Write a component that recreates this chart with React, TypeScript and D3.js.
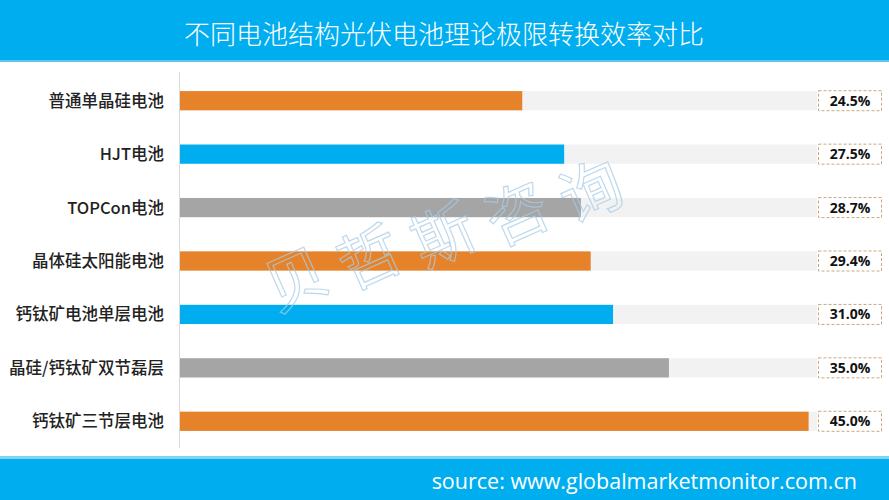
import * as d3 from "d3";
import { useEffect, useRef } from "react";

const categories = [
  "普通单晶硅电池",
  "HJT电池",
  "TOPCon电池",
  "晶体硅太阳能电池",
  "钙钛矿电池单层电池",
  "晶硅/钙钛矿双节磊层",
  "钙钛矿三节层电池",
];
const efficiency = [24.5, 27.5, 28.7, 29.4, 31.0, 35.0, 45.0];
const barColors = ["#E6832A", "#00AEEF", "#A5A5A5", "#E6832A", "#00AEEF", "#A5A5A5", "#E6832A"];
const trackMax = 45.6;
const watermark = ["贝", "哲", "斯", "咨", "询"];

const W = 889;
const H = 500;
const BLUE = "#00AEEF";

const App = () => {
  const svgRef = useRef<SVGSVGElement>(null);

  useEffect(() => {
    const svgEl = svgRef.current;
    if (!svgEl) return;
    const svg = d3.select(svgEl);
    svg.selectAll("*").remove();

    const x = d3.scaleLinear().domain([0, trackMax]).range([180, 817]);
    const y = d3.scaleBand<string>().domain(categories).range([74, 448]).paddingInner(0.64).paddingOuter(0.32);

    svg.append("rect").attr("width", W).attr("height", H).attr("fill", "#fff");

    // header
    svg.append("rect").attr("width", W).attr("height", 60).attr("fill", BLUE);
    svg.append("rect").attr("y", 60).attr("width", W).attr("height", 2).attr("fill", "#5CC8F0");
    svg
      .append("text")
      .attr("x", 444)
      .attr("y", 44)
      .attr("text-anchor", "middle")
      .attr("fill", "#fff")
      .attr("font-family", "'Noto Sans CJK SC', sans-serif")
      .attr("font-weight", 300)
      .attr("font-size", 26)
      .text("不同电池结构光伏电池理论极限转换效率对比");

    // footer
    svg.append("rect").attr("y", 456).attr("width", W).attr("height", 3).attr("fill", "#7FD3F3");
    svg.append("rect").attr("y", 459).attr("width", W).attr("height", 41).attr("fill", BLUE);
    svg
      .append("text")
      .attr("x", 857)
      .attr("y", 489)
      .attr("text-anchor", "end")
      .attr("fill", "#fff")
      .attr("font-family", "'Open Sans', sans-serif")
      .attr("font-size", 21.5)
      .text("source: www.globalmarketmonitor.com.cn");

    const rows = svg
      .append("g")
      .selectAll("g")
      .data(categories)
      .join("g")
      .attr("transform", (d) => `translate(0,${y(d)})`);

    rows
      .append("rect")
      .attr("x", x(0))
      .attr("width", x(trackMax) - x(0))
      .attr("height", y.bandwidth())
      .attr("fill", "#F2F2F2");

    rows
      .append("rect")
      .attr("x", x(0))
      .attr("width", (_, i) => x(efficiency[i]) - x(0))
      .attr("height", y.bandwidth())
      .attr("fill", (_, i) => barColors[i]);

    rows
      .append("text")
      .attr("x", 164)
      .attr("y", y.bandwidth() / 2)
      .attr("dy", "0.36em")
      .attr("text-anchor", "end")
      .attr("fill", "#222")
      .attr("font-family", "'Noto Sans CJK SC', sans-serif")
      .attr("font-weight", 500)
      .attr("font-size", 16.5)
      .text((d) => d);

    rows
      .append("rect")
      .attr("x", 818.5)
      .attr("y", y.bandwidth() / 2 - 10)
      .attr("width", 63)
      .attr("height", 20)
      .attr("fill", "#fff")
      .attr("stroke", "#C9A77F")
      .attr("stroke-width", 1)
      .attr("stroke-dasharray", "3,2");

    rows
      .append("text")
      .attr("x", 850)
      .attr("y", y.bandwidth() / 2)
      .attr("dy", "0.36em")
      .attr("text-anchor", "middle")
      .attr("fill", "#111")
      .attr("font-family", "'Open Sans', sans-serif")
      .attr("font-weight", 700)
      .attr("font-size", 14)
      .text((_, i) => `${efficiency[i].toFixed(1)}%`);

    // axis line
    svg
      .append("line")
      .attr("x1", x(0) - 0.5)
      .attr("x2", x(0) - 0.5)
      .attr("y1", 72)
      .attr("y2", 448)
      .attr("stroke", "#D9D9D9");

    // watermark
    const wmStart = [305, 300];
    const wmEnd = [600, 212];
    svg
      .append("g")
      .selectAll("text")
      .data(watermark)
      .join("text")
      .attr("transform", (_, i) => {
        const t = i / (watermark.length - 1);
        const cx = wmStart[0] + (wmEnd[0] - wmStart[0]) * t;
        const cy = wmStart[1] + (wmEnd[1] - wmStart[1]) * t;
        return `translate(${cx},${cy}) rotate(-24)`;
      })
      .attr("text-anchor", "middle")
      .attr("font-family", "'Noto Sans CJK SC', sans-serif")
      .attr("font-size", 62)
      .attr("fill", "none")
      .attr("stroke", "#A8CCE6")
      .attr("stroke-opacity", 0.75)
      .attr("stroke-width", 1.2)
      .text((d) => d);
  }, []);

  return (
    <svg
      ref={svgRef}
      width={W}
      height={H}
      style={{ display: "block", position: "absolute", left: 0, top: 0 }}
    />
  );
};

export default App;
